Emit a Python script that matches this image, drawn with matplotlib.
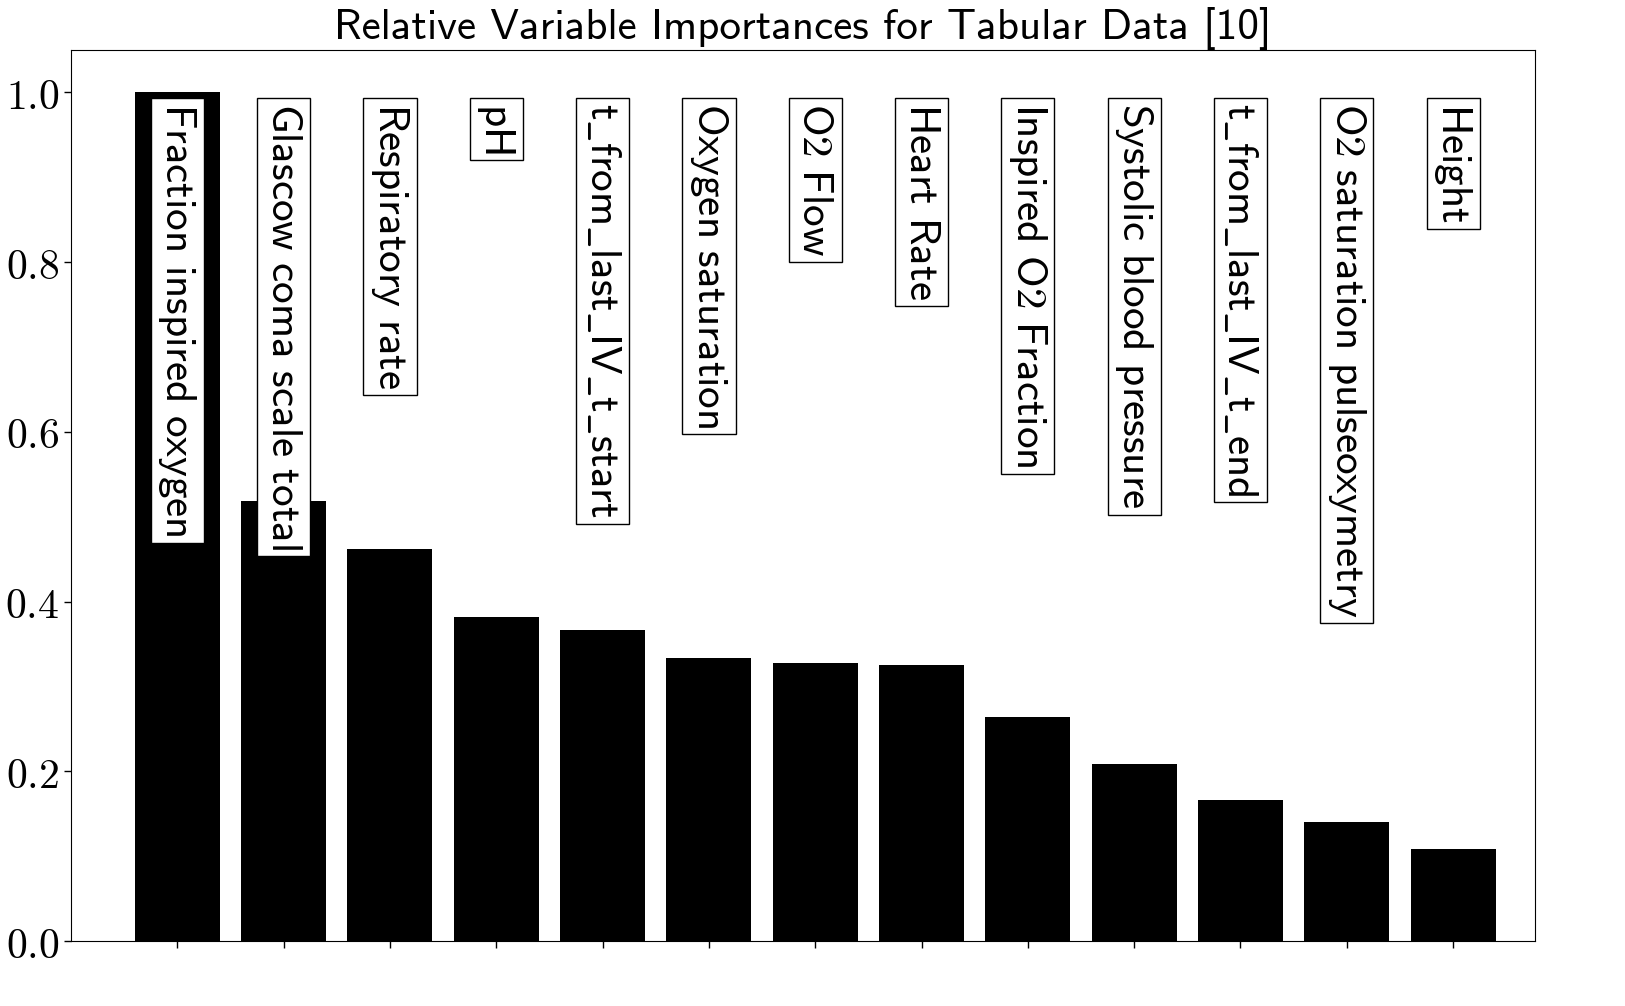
import numpy as np
import matplotlib
matplotlib.use("Agg")
import matplotlib.pyplot as plt

plt.rcParams['mathtext.fontset'] = 'cm'

variables = ["Fraction inspired oxygen", "Glascow coma scale total", "Respiratory rate", "pH",
             "t_from_last_IV_t_start", "Oxygen saturation", "O2 Flow", "Heart Rate",
             "Inspired O2 Fraction", "Systolic blood pressure", "t_from_last_IV_t_end",
             "O2 saturation pulseoxymetry", "Height"]
importances = [1.0, 0.519, 0.462, 0.382, 0.366, 0.334, 0.328, 0.325,
               0.264, 0.208, 0.166, 0.140, 0.108]
yticks = [0.0, 0.2, 0.4, 0.6, 0.8, 1.0]


def sf(s):
    # texto en sans serif tipo LaTeX
    s = s.replace("_", r"\_").replace(" ", r"\ ")
    return r"$\mathsf{" + s + "}$"


fig = plt.figure(figsize=(16.25, 10.06), dpi=100)
ax = fig.add_axes([71/1625, 1-941/1006, (1535-71)/1625, (941-50)/1006])

x = np.arange(len(variables))
ax.bar(x, importances, width=0.8, color='black', zorder=1)

for i, v in enumerate(variables):
    ax.text(i, 0.987, sf(v), rotation=-90, ha='center', va='top', fontsize=31,
            bbox=dict(facecolor='white', edgecolor='black', pad=4, linewidth=1), zorder=3)

ax.set_xlim(-1.0, 12.77)
ax.set_ylim(0, 1.05)
ax.set_xticks(x)
ax.set_xticklabels([])
ax.set_yticks(yticks)
ax.set_yticklabels([r"$%.1f$" % t for t in yticks], fontsize=30)
ax.tick_params(length=5, width=1)
ax.set_title("Relative Variable Importances for Tabular Data [10]", fontsize=31,
             fontfamily='cmss10', pad=8)

fig.savefig("out.png", dpi=100)
